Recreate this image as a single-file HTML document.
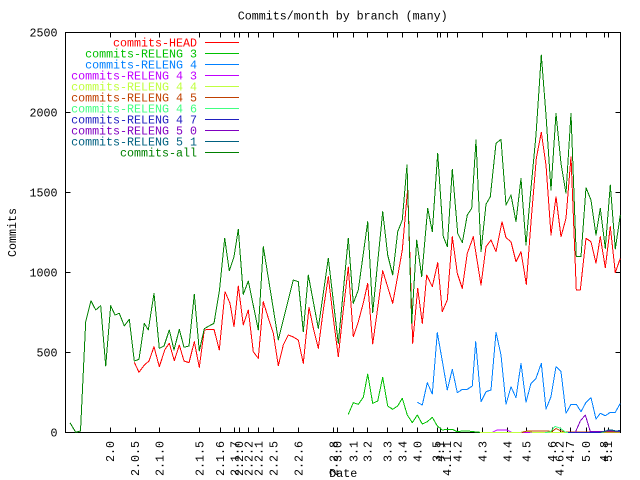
<!DOCTYPE html>
<html><head><meta charset="utf-8"><style>
html,body{margin:0;padding:0;background:#fff;}
svg{display:block;}
text{font-family:"Liberation Mono","DejaVu Sans Mono",monospace;font-size:11.67px;fill:#000;}
</style></head><body>
<svg width="640" height="480" viewBox="0 0 640 480" xmlns="http://www.w3.org/2000/svg">
<rect x="0" y="0" width="640" height="480" fill="#fff"/>
<text x="342.7" y="19.5" text-anchor="middle">Commits/month by branch (many)</text>
<text transform="translate(16,232.5) rotate(-90)" text-anchor="middle">Commits</text>
<text x="343.3" y="477" text-anchor="middle">Date</text>
<g text-anchor="end">
<text x="57.5" y="36.3">2500</text>
<text x="57.5" y="116.3">2000</text>
<text x="57.5" y="196.3">1500</text>
<text x="57.5" y="276.3">1000</text>
<text x="57.5" y="356.3">500</text>
<text x="57.5" y="436.3">0</text>
</g>
<g stroke="#000" stroke-width="1" shape-rendering="crispEdges" fill="none">
<rect x="65.5" y="32.5" width="555" height="400"/>
<path d="M65.5 112.5h5M65.5 192.5h5M65.5 272.5h5M65.5 352.5h5M620.5 112.5h-5M620.5 192.5h-5M620.5 272.5h-5M620.5 352.5h-5M65.5 32.5h5M620.5 32.5h-5M65.5 432.5h5M620.5 432.5h-5"/>
<path d="M110.5 432.5v-5M135.5 432.5v-5M159.5 432.5v-5M199.5 432.5v-5M220.5 432.5v-5M234.5 432.5v-5M239.5 432.5v-5M248.5 432.5v-5M258.5 432.5v-5M273.5 432.5v-5M298.5 432.5v-5M333.5 432.5v-5M337.5 432.5v-5M353.5 432.5v-5M367.5 432.5v-5M387.5 432.5v-5M402.5 432.5v-5M417.5 432.5v-5M437.5 432.5v-5M440.5 432.5v-5M447.5 432.5v-5M457.5 432.5v-5M482.5 432.5v-5M507.5 432.5v-5M526.5 432.5v-5M552.5 432.5v-5M560.5 432.5v-5M570.5 432.5v-5M586.5 432.5v-5M604.5 432.5v-5M608.5 432.5v-5"/>
<path d="M110.5 32.5v5M135.5 32.5v5M159.5 32.5v5M199.5 32.5v5M220.5 32.5v5M234.5 32.5v5M239.5 32.5v5M248.5 32.5v5M258.5 32.5v5M273.5 32.5v5M298.5 32.5v5M333.5 32.5v5M337.5 32.5v5M353.5 32.5v5M367.5 32.5v5M387.5 32.5v5M402.5 32.5v5M417.5 32.5v5M437.5 32.5v5M440.5 32.5v5M447.5 32.5v5M457.5 32.5v5M482.5 32.5v5M507.5 32.5v5M526.5 32.5v5M552.5 32.5v5M560.5 32.5v5M570.5 32.5v5M586.5 32.5v5M604.5 32.5v5M608.5 32.5v5"/>
</g>
<g text-anchor="end">
<text transform="translate(110.3,441) rotate(-90)" dy="3.85">2.0</text>
<text transform="translate(135.3,441) rotate(-90)" dy="3.85">2.0.5</text>
<text transform="translate(159.5,441) rotate(-90)" dy="3.85">2.1.0</text>
<text transform="translate(199.5,441) rotate(-90)" dy="3.85">2.1.5</text>
<text transform="translate(220.3,441) rotate(-90)" dy="3.85">2.1.6</text>
<text transform="translate(234.5,441) rotate(-90)" dy="3.85">2.1.7</text>
<text transform="translate(239.3,441) rotate(-90)" dy="3.85">2.2.0</text>
<text transform="translate(248.5,441) rotate(-90)" dy="3.85">2.2.2</text>
<text transform="translate(258.5,441) rotate(-90)" dy="3.85">2.2.1</text>
<text transform="translate(273.5,441) rotate(-90)" dy="3.85">2.2.5</text>
<text transform="translate(298.5,441) rotate(-90)" dy="3.85">2.2.6</text>
<text transform="translate(333.5,441) rotate(-90)" dy="3.85">2.2.8</text>
<text transform="translate(337.7,441) rotate(-90)" dy="3.85">3.0</text>
<text transform="translate(353.5,441) rotate(-90)" dy="3.85">3.1</text>
<text transform="translate(367.7,441) rotate(-90)" dy="3.85">3.2</text>
<text transform="translate(387.5,441) rotate(-90)" dy="3.85">3.3</text>
<text transform="translate(402.7,441) rotate(-90)" dy="3.85">3.4</text>
<text transform="translate(417.7,441) rotate(-90)" dy="3.85">4.0</text>
<text transform="translate(436.5,441) rotate(-90)" dy="3.85">3.5</text>
<text transform="translate(440.3,441) rotate(-90)" dy="3.85">4.1</text>
<text transform="translate(447.3,441) rotate(-90)" dy="3.85">4.1.1</text>
<text transform="translate(457.7,441) rotate(-90)" dy="3.85">4.2</text>
<text transform="translate(482.5,441) rotate(-90)" dy="3.85">4.3</text>
<text transform="translate(507.5,441) rotate(-90)" dy="3.85">4.4</text>
<text transform="translate(526.5,441) rotate(-90)" dy="3.85">4.5</text>
<text transform="translate(552.3,441) rotate(-90)" dy="3.85">4.6</text>
<text transform="translate(559.8,441) rotate(-90)" dy="3.85">4.6.2</text>
<text transform="translate(570.3,441) rotate(-90)" dy="3.85">4.7</text>
<text transform="translate(586.3,441) rotate(-90)" dy="3.85">5.0</text>
<text transform="translate(604,441) rotate(-90)" dy="3.85">4.8</text>
<text transform="translate(608.3,441) rotate(-90)" dy="3.85">5.1</text>
</g>
<g text-anchor="end">
<text x="197" y="46.5" style="fill:#ff0000">commits-HEAD</text>
<text x="197" y="57.5" style="fill:#00c000">commits-RELENG 3</text>
<text x="197" y="68.5" style="fill:#0080ff">commits-RELENG 4</text>
<text x="197" y="79.5" style="fill:#c000ff">commits-RELENG 4 3</text>
<text x="197" y="90.5" style="fill:#c0ff40">commits-RELENG 4 4</text>
<text x="197" y="101.5" style="fill:#c04000">commits-RELENG 4 5</text>
<text x="197" y="112.5" style="fill:#40ff80">commits-RELENG 4 6</text>
<text x="197" y="123.5" style="fill:#2020c0">commits-RELENG 4 7</text>
<text x="197" y="134.5" style="fill:#8000c0">commits-RELENG 5 0</text>
<text x="197" y="145.5" style="fill:#006080">commits-RELENG 5 1</text>
<text x="197" y="156.5" style="fill:#008000">commits-all</text>
</g>
<g stroke-width="1" shape-rendering="crispEdges" fill="none">
<path d="M205 42.5h34" stroke="#ff0000"/>
<path d="M205 53.5h34" stroke="#00c000"/>
<path d="M205 64.5h34" stroke="#0080ff"/>
<path d="M205 75.5h34" stroke="#c000ff"/>
<path d="M205 86.5h34" stroke="#c0ff40"/>
<path d="M205 97.5h34" stroke="#c04000"/>
<path d="M205 108.5h34" stroke="#40ff80"/>
<path d="M205 119.5h34" stroke="#2020c0"/>
<path d="M205 130.5h34" stroke="#8000c0"/>
<path d="M205 141.5h34" stroke="#006080"/>
<path d="M205 152.5h34" stroke="#008000"/>
</g>
<g stroke-width="1" fill="none" shape-rendering="crispEdges" stroke-linejoin="round">
<polyline stroke="#ff0000" points="134.3,362.3 139,372.3 144.3,365 149,361 154,346.7 159.3,366.7 165,349.3 169.3,343.3 174.3,360.7 179.3,345 184,361 189,362.7 194.3,341.7 199.3,367.3 204.3,330 209,329.3 214,329.3 219.3,350 225,291.7 230,303.3 234,326.7 238.3,286 243.3,325 248.3,310 253.3,351.7 258.3,358.3 263.3,301.7 268.3,318 273.3,333 278.3,365.7 283.3,345 288.3,335 293.3,337 298.3,340 303.3,363.3 309,307.3 313.3,328 318.3,348.3 323.3,310 328.3,276.7 333.3,318 338.3,356.7 343.3,310 348.3,267 353.3,336.7 358.3,321.7 363.3,303 367.7,283.3 372.7,344 377.7,308 382.7,270.7 387.7,287 392.7,303.3 397.7,276 402.3,250 407.7,188.3 412.7,343.3 417.7,288.3 422.3,323.3 426.7,275 432.3,286.7 437.7,262.7 442.3,311.7 447.3,300 452.3,236.7 457.3,273.3 462.3,288.3 467.3,253.3 473.3,236.7 481,285 486,246.7 491,240 496,251.7 502,221.7 506,237.7 511,241.7 516,261.7 521,251.7 526.3,284.3 531.3,218.3 536.3,158.3 541.3,132.3 546,165 551,235 556,196.7 561,236.7 566,218.3 571,156.7 576.3,290 580.3,290 586,238.3 591,241.7 596,263.3 600.3,236.7 605.3,267.7 610.3,226.7 615.3,272.7 620.3,258.3"/>
<polyline stroke="#00c000" points="348.3,414.3 353.3,402.7 358.3,404.3 363.3,397.3 367.7,374 372.7,403.3 377.7,401 382.7,377.3 387.7,406 392.7,409.3 397.7,406 402.3,398.3 407.3,415 412.3,422.7 417.3,415 422.3,424 427.3,421.7 432.3,417.3 437.3,426 442.3,430 447.3,429.3 452.3,429.3 457.3,431.7 462.3,431 467.3,431 472.3,431.5 477,432 482,432.5 620,432.5"/>
<polyline stroke="#0080ff" points="417.3,402.3 422.3,405 427.3,382.7 432.3,394 437.3,332.7 442.3,361 447.3,390 452.3,369.3 457.3,392.7 462.3,389.3 467.3,389.3 472.3,386 475.7,341.7 481,401.7 486,391.7 491,390 496,332.3 501,355 506,404.3 511,386.7 516,397.7 521,363.3 526,402.3 531,383.3 536,378.3 541.3,363.3 546,409 551,396.7 556,366.7 561,371.7 566,413.3 571,404.3 576.3,404.3 581,411.7 586,402.3 591,397.7 596,419 600.3,413.3 605.3,415.7 610.3,412.3 615.3,412.3 620.3,403.3"/>
<polyline stroke="#c000ff" points="481,432.5 492,432.5 497,430 507,430 512,432.5 620,432.5"/>
<polyline stroke="#c0ff40" points="480,432.5 520,432.5 524,431.5 529,431.5 533,432.5 620,432.5"/>
<polyline stroke="#c04000" points="522,432.5 527,431 547,431 552,431.5 556,428.5 561,431 566,432 620,432"/>
<polyline stroke="#40ff80" points="545,432.5 550,432 555,426.5 560,428 566,432.5 580,432.5"/>
<polyline stroke="#2020c0" points="568,432.5 600,432.5 605,431 611,430 616,431 620,430.5"/>
<polyline stroke="#8000c0" points="575.3,432.5 580.3,421 585.3,415 590.3,431.5 600,431.5 610,431 620,431.5"/>
<polyline stroke="#006080" points="600,432.5 605,431.5 608,430 612,430 615,431 620,431"/>
<polyline stroke="#008000" points="70,422.7 75.7,432.3 80.5,431 85.7,321.7 91,300.7 95.7,310 100.7,305.7 105.7,366 110.7,305.7 115,315 119.3,313.3 124.3,326 129.3,319.3 134.3,361 139,359.3 144.3,323.3 148.3,330 154,293.3 159.3,348.3 164,346 169.3,330 174,350 179.3,329.3 184,347.3 189,346 194.3,294.3 199.3,351 204.3,328.7 209,326 214,323.3 219.5,290 224.7,238.3 229.3,270.7 234,256.7 238.3,229.3 243.3,294.3 248.3,281 258.3,330 263.3,246.7 278.3,340 293.3,280 298.3,281.7 303.3,331.7 308.3,275 318.3,328.3 328.3,258.3 338.3,343.3 348.3,238.3 353.3,303.3 358.3,290 367.7,221.7 372.7,312.7 382.7,211.7 387.7,255 392.7,275 397.7,231.7 402.3,220 407,165 411.7,323.3 416.7,240 421.7,276.7 427.7,208.3 432.3,231.7 437.7,153.3 443.3,236.7 447.3,246.7 452.3,169.3 457.7,233.3 462.3,242.7 467.3,215 471.7,208.3 476,140 481,251.7 486,204.3 490.3,196.7 496,143.3 501,139.3 506,205 511,195 516,221.7 521,178.3 526,245 531,188.3 536,135 541.3,55 546,115 551,190 556,113.3 561,163.3 566,193.3 571,113.3 576.3,256.7 581,256.7 586,187.7 591,200 596,235 600.3,208.3 605.3,248.3 610.3,185 615.3,249 620.3,215"/>
</g>
</svg>
</body></html>
